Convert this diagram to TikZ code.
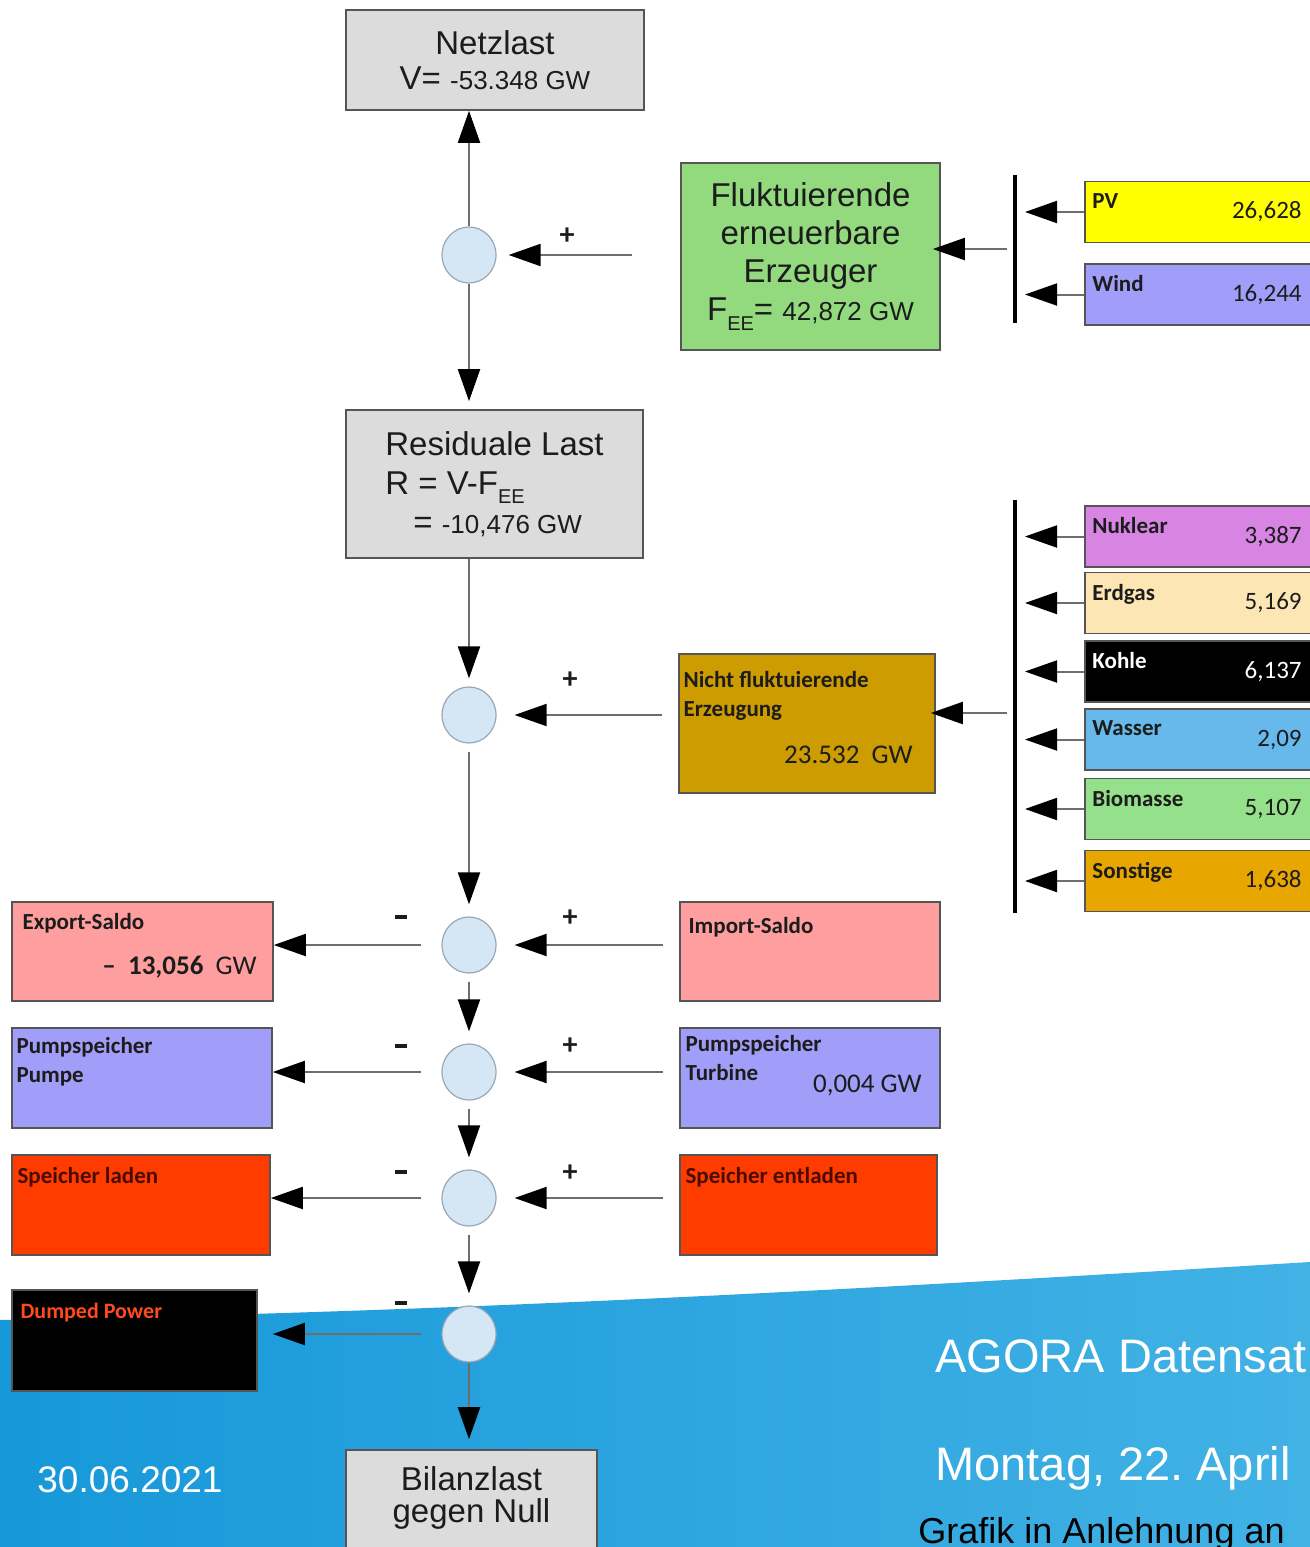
\documentclass[tikz,border=0pt]{standalone}
\usepackage{fontspec}
\setmainfont{Liberation Sans}
\newfontfamily\calib{Carlito}
\usetikzlibrary{arrows.meta,shapes.geometric,positioning}

\definecolor{fgrau}{HTML}{DCDCDC}
\definecolor{frand}{HTML}{555555}
\definecolor{ftext}{HTML}{1C1C1C}
\definecolor{flinie}{HTML}{6E6E6E}
\definecolor{fkreis}{HTML}{D5E6F5}
\definecolor{fkreisrand}{HTML}{9AA7B5}
\definecolor{fgruen}{HTML}{93DA7F}
\definecolor{fgold}{HTML}{CC9C00}
\definecolor{frosa}{HTML}{FF9E9E}
\definecolor{flila}{HTML}{A09EF8}
\definecolor{frot}{HTML}{FF3C00}
\definecolor{fdunkelrot}{HTML}{4A0C00}
\definecolor{fdumped}{HTML}{FF4A1A}
\definecolor{fgelb}{HTML}{FFFF00}
\definecolor{fnuk}{HTML}{D884E2}
\definecolor{fgas}{HTML}{FCE6B4}
\definecolor{fwasser}{HTML}{66B9EA}
\definecolor{fbio}{HTML}{95E08A}
\definecolor{fsonst}{HTML}{E8A700}
\definecolor{blauL}{HTML}{1698D9}
\definecolor{blauR}{HTML}{42B2E5}

\newcommand{\gross}{\fontsize{16.5}{19.5}\selectfont}
\newcommand{\mittel}{\fontsize{13}{15}\selectfont}
\newcommand{\klein}{\calib\bfseries\fontsize{11.5}{14.5}\selectfont}
\newcommand{\zahl}{\calib\fontsize{12.5}{15}\selectfont}
\newcommand{\EE}{\raisebox{-0.55ex}{\fontsize{10}{10}\selectfont EE}}

\newcommand{\quelle}[6]{
  \node[qbox,fill=#3](#1) at (1084,#2){};
  \node[qtext,text=#4,anchor=north west](#1-name)
    at ([xshift=4pt,yshift=-6pt]#1.north west){#5};
  \node[qtext,font=\zahl,text=#4,anchor=east](#1-wert) at (1302,#2){#6};
  \coordinate(#1-ziel) at (1025,#2);
  \draw[pfeil](#1)--(#1-ziel);
}

\begin{document}
\begin{tikzpicture}[
  x=0.5pt,y=-0.5pt,
  box/.style={draw=frand,line width=0.8pt,rectangle,inner sep=0pt},
  graubox/.style={box,fill=fgrau,font=\gross,text=ftext,align=center},
  kreis/.style={ellipse,draw=fkreisrand,line width=0.6pt,fill=fkreis,
    minimum width=27pt,minimum height=28pt,inner sep=0pt},
  qbox/.style={box,anchor=west,minimum width=118pt,minimum height=30.5pt},
  qtext/.style={font=\klein,text=ftext,inner sep=0pt,align=left},
  pfeil/.style={draw=flinie,line width=1pt,
    -{Triangle[length=16pt,width=11pt,color=black]}},
  balken/.style={draw=black,line width=1.8pt},
  zeichen/.style={font=\calib\bfseries\fontsize{15}{15}\selectfont,
    text=ftext,inner sep=0pt},
  ]
  \useasboundingbox (0,0) rectangle (1310,1547);
  \fill[white] (0,0) rectangle (1310,1547);
  \shade[left color=blauL,right color=blauR]
    (0,1320) .. controls (450,1312) and (850,1290) .. (1310,1262)
    -- (1310,1547) -- (0,1547) -- cycle;

  % Hauptstrang
  \node[graubox,minimum width=149pt,minimum height=50pt](netz) at (495,60)
    {Netzlast\\[-2pt]V= {\mittel -53.348 GW}};
  \node[kreis](kreis1) at (469,255){};
  \node[graubox,minimum width=148.5pt,minimum height=74pt,align=left](rest)
    at (494.5,484)
    {Residuale Last\\R = V-F\EE\\\hspace*{14pt}= {\mittel -10,476 GW}};
  \node[kreis](kreis2) at (469,715){};
  \node[kreis](kreis3) at (469,945){};
  \node[kreis](kreis4) at (469,1072){};
  \node[kreis](kreis5) at (469,1198){};
  \node[kreis](kreis6) at (469,1334){};
  \node[graubox,minimum width=125.5pt,minimum height=55pt,text depth=10.5pt]
    (bilanz) at (471.5,1505){Bilanzlast\\[-3.5pt]gegen Null};

  % Erzeuger
  \node[box,fill=fgruen,minimum width=129.5pt,minimum height=93.5pt,
    font=\fontsize{16.5}{19}\selectfont,text=ftext,align=center](fee)
    at (810.5,256.5)
    {Fluktuierende\\erneuerbare\\Erzeuger\\F\EE= {\mittel 42,872 GW}};
  \node[box,fill=fgold,minimum width=128pt,minimum height=69.5pt](nicht)
    at (807,723.5){};
  \node[qtext,anchor=north west](nicht-name)
    at ([xshift=2.5pt,yshift=-9pt]nicht.north west)
    {Nicht fluktuierende\\Erzeugung};
  \node[qtext,font=\calib\fontsize{13.5}{16}\selectfont,anchor=east]
    (nicht-wert) at (913,755){23.532\ \ GW};

  \quelle{pv}{212}{fgelb}{ftext}{PV}{26,628}
  \quelle{wind}{294.5}{flila}{ftext}{Wind}{16,244}
  \quelle{nuklear}{536.5}{fnuk}{ftext}{Nuklear}{3,387}
  \quelle{erdgas}{603}{fgas}{ftext}{Erdgas}{5,169}
  \quelle{kohle}{671.5}{black}{white}{Kohle}{6,137}
  \quelle{wasser}{739.5}{fwasser}{ftext}{Wasser}{2,09}
  \quelle{biomasse}{809}{fbio}{ftext}{Biomasse}{5,107}
  \quelle{sonstige}{881}{fsonst}{ftext}{Sonstige}{1,638}

  \draw[balken](1015,175)--(1015,323);
  \draw[balken](1015,500)--(1015,913);
  \coordinate(abzweig1) at (1007,249);
  \coordinate(abzweig2) at (1007,713);
  \draw[pfeil,shorten >=-4pt](abzweig1)--(fee.east |- abzweig1);
  \draw[pfeil,shorten >=-2.5pt](abzweig2)--(nicht.east |- abzweig2);

  % Zu- und Abflüsse
  \node[box,fill=frosa,minimum width=130.5pt,minimum height=49.5pt](export)
    at (142.5,951.5){};
  \node[qtext,anchor=north west](export-name)
    at ([xshift=5.5pt,yshift=-6pt]export.north west){Export-Saldo};
  \node[qtext,font=\calib\fontsize{13.5}{16}\selectfont,anchor=east]
    (export-wert) at (257,967){\textbf{–\ \ 13,056}\ \ GW};
  \node[box,fill=frosa,minimum width=130pt,minimum height=49.5pt](import)
    at (810,951.5){};
  \node[qtext,anchor=north west](import-name)
    at ([xshift=4.5pt,yshift=-8pt]import.north west){Import-Saldo};

  \node[box,fill=flila,minimum width=130pt,minimum height=50pt](pumpe)
    at (142,1078){};
  \node[qtext,anchor=north west](pumpe-name)
    at ([xshift=2.5pt,yshift=-5pt]pumpe.north west){Pumpspeicher\\Pumpe};
  \node[box,fill=flila,minimum width=130pt,minimum height=50pt](turbine)
    at (810,1078){};
  \node[qtext,anchor=north west](turbine-name)
    at ([xshift=3pt,yshift=-4pt]turbine.north west){Pumpspeicher\\Turbine};
  \node[qtext,font=\calib\fontsize{13.5}{16}\selectfont,anchor=east]
    (turbine-wert) at (922,1085){0,004 GW};

  \node[box,fill=frot,minimum width=129pt,minimum height=50pt](laden)
    at (141,1205){};
  \node[qtext,text=fdunkelrot,anchor=north west](laden-name)
    at ([xshift=3pt,yshift=-6.5pt]laden.north west){Speicher laden};
  \node[box,fill=frot,minimum width=128.5pt,minimum height=50pt](entladen)
    at (808.5,1205){};
  \node[qtext,text=fdunkelrot,anchor=north west](entladen-name)
    at ([xshift=3pt,yshift=-6.5pt]entladen.north west){Speicher entladen};

  \node[box,fill=black,minimum width=122.5pt,minimum height=50.5pt](dumped)
    at (134.5,1340.5){};
  \node[qtext,text=fdumped,font=\calib\bfseries\fontsize{11}{13}\selectfont,
    anchor=north west](dumped-name)
    at ([xshift=4.5pt,yshift=-6.5pt]dumped.north west){Dumped Power};

  % Vorzeichen
  \node[zeichen](plus1) at ([shift={(98,-19)}]kreis1){+};
  \node[zeichen](plus2) at ([shift={(101,-35)}]kreis2){+};
  \node[zeichen](plus3) at ([shift={(101,-27)}]kreis3){+};
  \node[zeichen](plus4) at ([shift={(101,-26)}]kreis4){+};
  \node[zeichen](plus5) at ([shift={(101,-25)}]kreis5){+};
  \node[zeichen](minus3) at ([shift={(-68,-28)}]kreis3){\rule{6pt}{2pt}};
  \node[zeichen](minus4) at ([shift={(-68,-26)}]kreis4){\rule{6pt}{2pt}};
  \node[zeichen](minus5) at ([shift={(-68,-26)}]kreis5){\rule{6pt}{2pt}};
  \node[zeichen](minus6) at ([shift={(-68,-31)}]kreis6){\rule{6pt}{2pt}};

  % Pfeile
  \draw[pfeil](kreis1)--(kreis1 |- netz.south);
  \draw[pfeil,shorten >=4pt](kreis1)--(kreis1 |- rest.north);
  \draw[pfeil,shorten <=24pt,shorten >=6pt](fee.west |- kreis1)--(kreis1);
  \draw[pfeil,shorten >=4pt](rest.south -| kreis2)--(kreis2);
  \draw[pfeil,shorten <=8pt,shorten >=9pt](nicht.west |- kreis2)--(kreis2);
  \draw[pfeil,shorten <=4pt,shorten >=6pt](kreis2)--(kreis3);
  \draw[pfeil,shorten <=4pt,shorten >=6pt](kreis3)--(kreis4);
  \draw[pfeil,shorten <=4pt,shorten >=6pt](kreis4)--(kreis5);
  \draw[pfeil,shorten <=4pt,shorten >=6pt](kreis5)--(kreis6);
  \draw[pfeil,shorten >=5pt](kreis6)--(kreis6 |- bilanz.north);
  \draw[pfeil,shorten <=8pt,shorten >=9pt](import.west |- kreis3)--(kreis3);
  \draw[pfeil,shorten <=8pt,shorten >=9pt](turbine.west |- kreis4)--(kreis4);
  \draw[pfeil,shorten <=8pt,shorten >=9pt](entladen.west |- kreis5)--(kreis5);
  \draw[pfeil,shorten <=10pt](kreis3)--(kreis3 -| export.east);
  \draw[pfeil,shorten <=10pt](kreis4)--(kreis4 -| pumpe.east);
  \draw[pfeil,shorten <=10pt](kreis5)--(kreis5 -| laden.east);
  \draw[pfeil,shorten <=10pt,shorten >=7.5pt](kreis6)--(kreis6 -| dumped.east);

  % Folientexte
  \node[text=white,font=\fontsize{18.5}{20}\selectfont,inner sep=0pt,
    anchor=base west](datum) at (37,1492){30.06.2021};
  \node[text=white,font=\fontsize{23.5}{26}\selectfont,inner sep=0pt,
    anchor=base west](titel) at (935,1372){AGORA Datensat};
  \node[text=white,font=\fontsize{23.5}{26}\selectfont,inner sep=0pt,
    anchor=base west](tag) at (935,1480){Montag, 22.\ April};
  \node[text=black,font=\fontsize{18}{20}\selectfont,inner sep=0pt,
    anchor=base west](hinweis) at (918,1543){Grafik in Anlehnung an};
\end{tikzpicture}
\end{document}
